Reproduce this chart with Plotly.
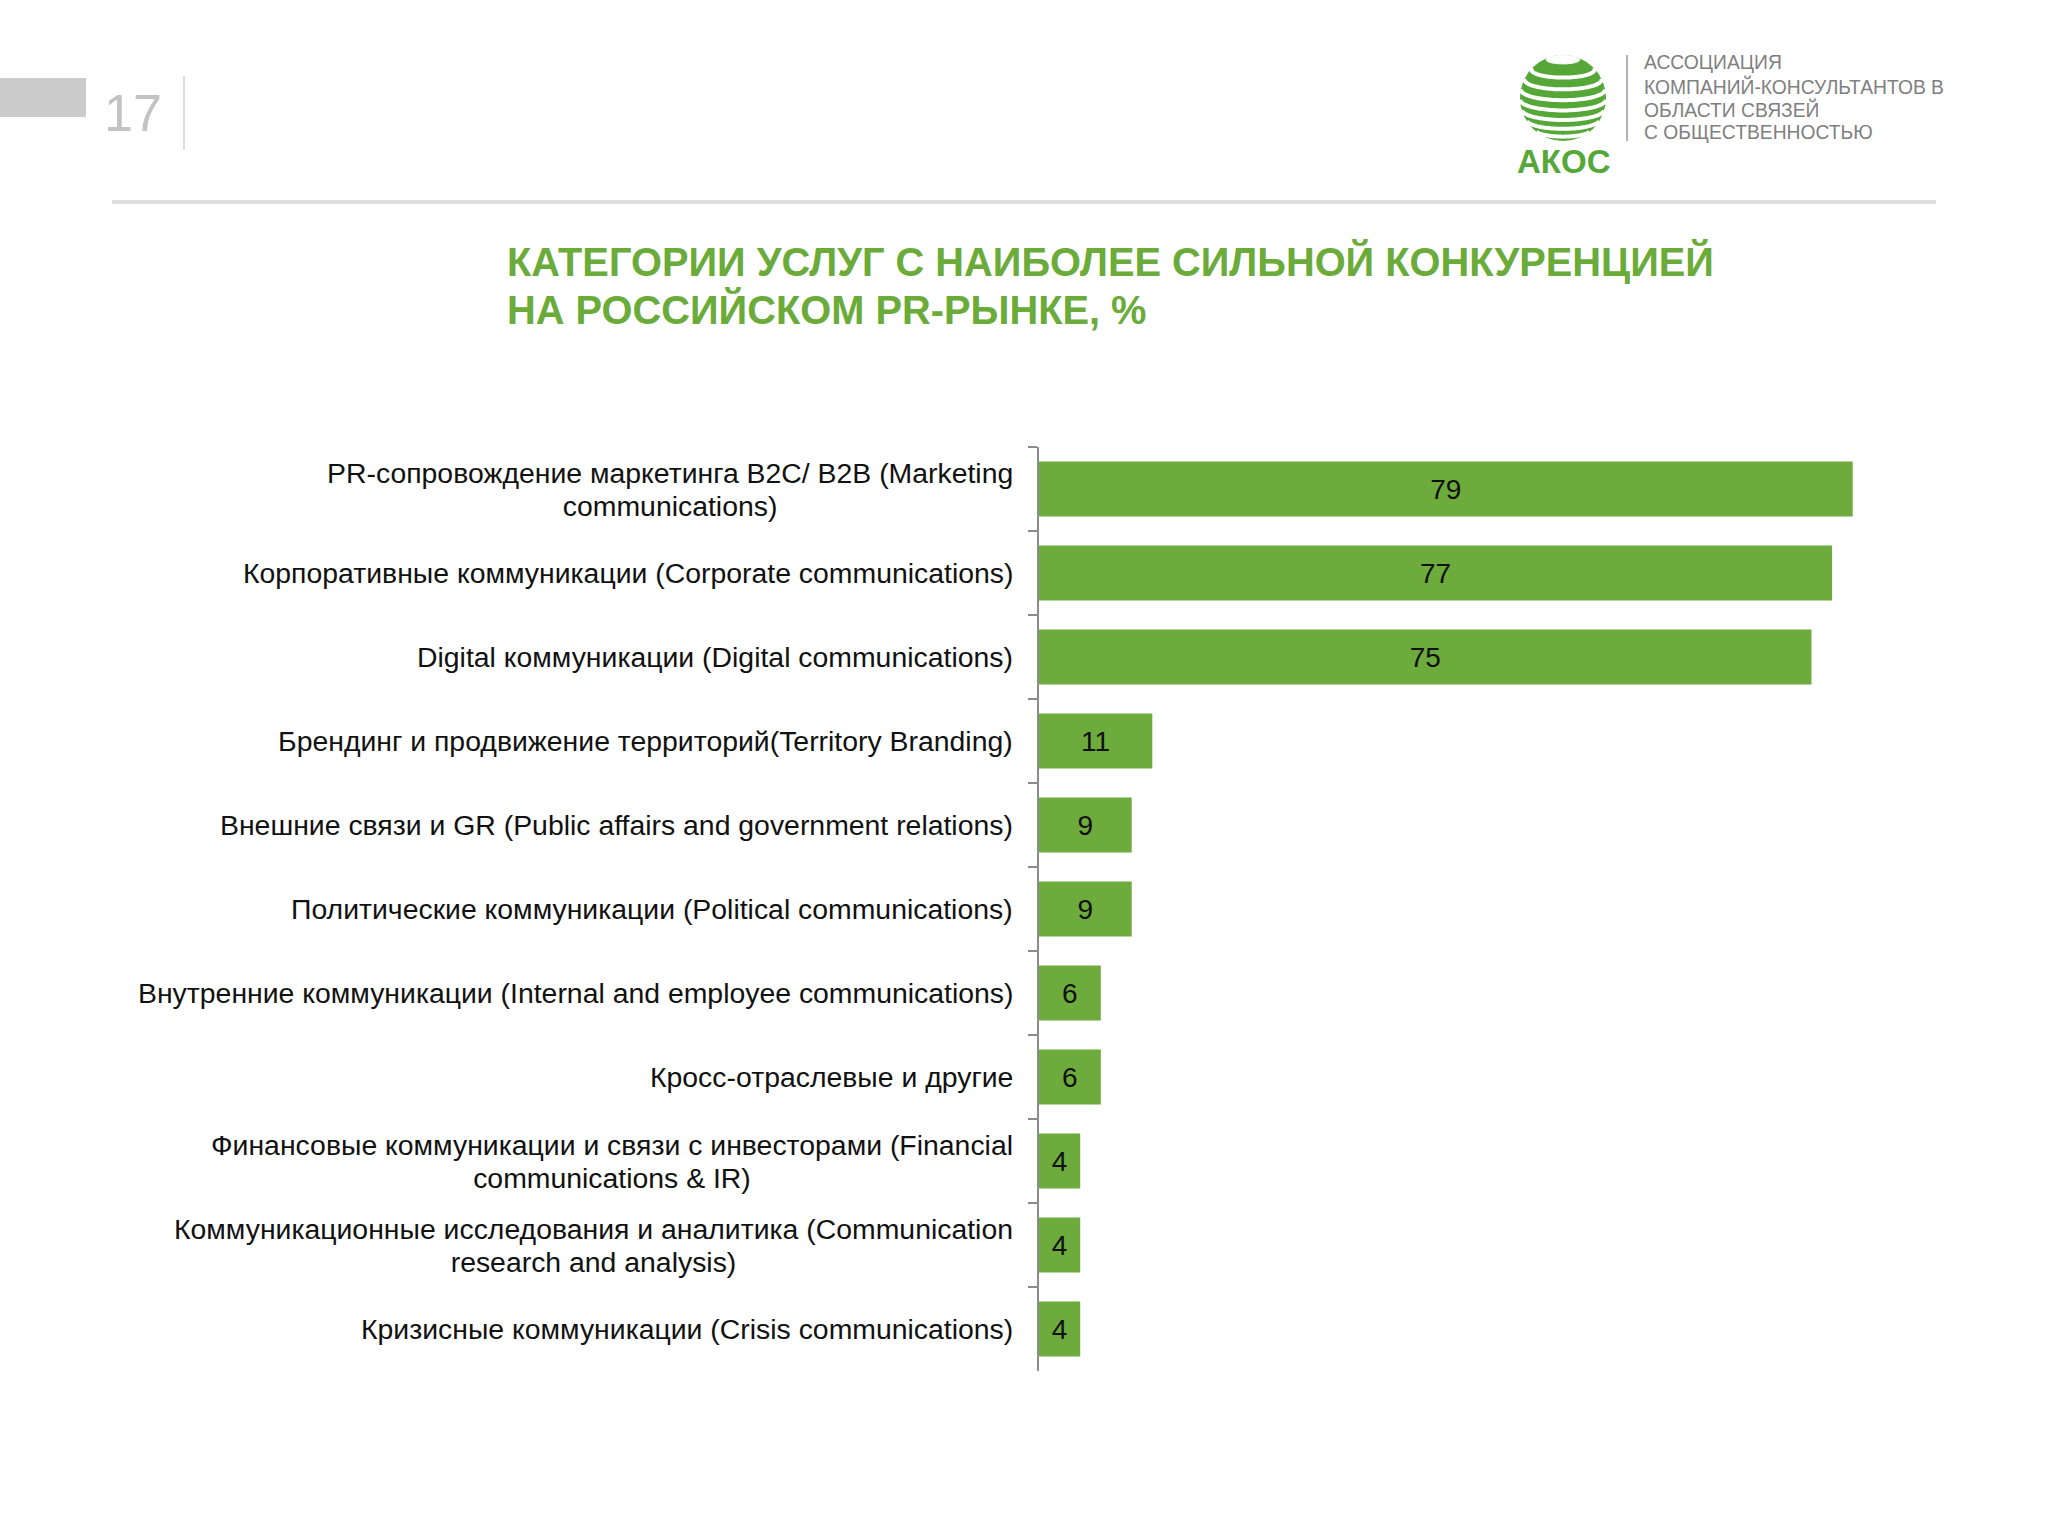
import plotly.graph_objects as go
import numpy as np

# ---------------- data ----------------
categories = [
    "PR-сопровождение маркетинга B2C/ B2B (Marketing<br>communications)",
    "Корпоративные коммуникации (Corporate communications)",
    "Digital коммуникации (Digital communications)",
    "Брендинг и продвижение территорий(Territory Branding)",
    "Внешние связи и GR (Public affairs and government relations)",
    "Политические коммуникации (Political communications)",
    "Внутренние коммуникации (Internal and employee communications)",
    "Кросс-отраслевые и другие",
    "Финансовые коммуникации и связи с инвесторами (Financial<br>communications & IR)",
    "Коммуникационные исследования и аналитика (Communication<br>research and analysis)",
    "Кризисные коммуникации (Crisis communications)",
]
values = [79, 77, 75, 11, 9, 9, 6, 6, 4, 4, 4]

title_text = "КАТЕГОРИИ УСЛУГ С НАИБОЛЕЕ СИЛЬНОЙ КОНКУРЕНЦИЕЙ<br>НА РОССИЙСКОМ PR-РЫНКЕ, %"
page_number = "17"
logo_name = "АКОС"
logo_lines = [
    "АССОЦИАЦИЯ",
    "КОМПАНИЙ-КОНСУЛЬТАНТОВ В",
    "ОБЛАСТИ СВЯЗЕЙ",
    "С ОБЩЕСТВЕННОСТЬЮ",
]

# ---------------- layout geometry ----------------
W, H = 2048, 1536
ML, MT = 1039, 447
PW, PH = 900, 924
MR = W - ML - PW
MB = H - MT - PH
PX_PER_UNIT = 10.3
XMAX = PW / PX_PER_UNIT

GREEN = "#6dac3c"
LOGO_GREEN = "#55a738"
FONT = "Liberation Sans, Arial, sans-serif"


def px(x):
    return (x - ML) / PW


def py(y):
    return 1 - (y - MT) / PH


def sized(text, size):
    return "<br>".join('<span style="font-size:%spx">%s</span>' % (size, part)
                       for part in text.split("<br>"))


fig = go.Figure()
fig.add_trace(go.Bar(
    x=values,
    y=categories,
    orientation="h",
    marker=dict(color=GREEN, line=dict(width=0)),
    text=[str(v) for v in values],
    textposition="inside",
    insidetextanchor="middle",
    textfont=dict(family=FONT, size=28, color="#111111"),
    constraintext="none",
    hoverinfo="skip",
))

annotations = []
# category labels (centered multi-line, right edge near axis)
for c in categories:
    annotations.append(dict(
        x=0, xref="paper", y=c, yref="y",
        text=sized(c, 28.4), showarrow=False, xanchor="right", yanchor="middle",
        align="center", xshift=-24,
        font=dict(family=FONT, size=25.4, color="#111111"),
    ))

# title
annotations.append(dict(
    x=px(505), xref="paper", y=py(286), yref="paper",
    text="<b>" + sized(title_text, 39.8) + "</b>", showarrow=False,
    xanchor="left", yanchor="middle", align="left",
    font=dict(family=FONT, size=37, color="#6aab3a"),
))

# page number
annotations.append(dict(
    x=px(133), xref="paper", y=py(113), yref="paper",
    text=page_number, showarrow=False, xanchor="center", yanchor="middle",
    font=dict(family=FONT, size=52, color="#c3c3c3"),
))

# logo texts
annotations.append(dict(
    x=px(1563), xref="paper", y=py(162), yref="paper",
    text="<b>" + logo_name + "</b>", showarrow=False, xanchor="center", yanchor="middle",
    font=dict(family=FONT, size=33, color=LOGO_GREEN),
))
for i, line in enumerate(logo_lines):
    annotations.append(dict(
        x=px(1642), xref="paper", y=py(63 + i * 23.3), yref="paper",
        text=line, showarrow=False, xanchor="left", yanchor="middle",
        font=dict(family=FONT, size=19.3, color="#7f7f7f"),
    ))

shapes = []
# grey block left
shapes.append(dict(type="rect", xref="paper", yref="paper",
                   x0=px(0), x1=px(86), y0=py(78), y1=py(117),
                   fillcolor="#cbcbcb", line=dict(width=0)))
# vertical separator near page number
shapes.append(dict(type="line", xref="paper", yref="paper",
                   x0=px(184), x1=px(184), y0=py(76), y1=py(150),
                   line=dict(color="#dcdcdc", width=2)))
# header rule
shapes.append(dict(type="line", xref="paper", yref="paper",
                   x0=px(112), x1=px(1936), y0=py(202), y1=py(202),
                   line=dict(color="#dedede", width=4)))
# logo separator
shapes.append(dict(type="line", xref="paper", yref="paper",
                   x0=px(1627), x1=px(1627), y0=py(55), y1=py(141),
                   line=dict(color="#9a9a9a", width=1.5)))

# striped globe logo (decoration)
cx, cy, R = 1563, 98, 43
shapes.append(dict(type="circle", xref="paper", yref="paper",
                   x0=px(cx - R), x1=px(cx + R), y0=py(cy - R), y1=py(cy + R),
                   fillcolor=LOGO_GREEN, line=dict(width=0)))
sa = 0.25
ca = np.sqrt(1 - sa ** 2)
ta = sa / ca
for j, h in enumerate([0.92, 0.68, 0.44, 0.20, -0.04, -0.28, -0.52, -0.76]):
    r = np.sqrt(1 - h * h)
    k = h * ta / r
    full = (j == 0)
    if full:
        t = np.linspace(0, 2 * np.pi, 60)
    else:
        t0 = np.arcsin(np.clip(k, -1, 1))
        t = np.linspace(-t0, np.pi + t0, 60)
    xs = cx + R * r * np.cos(t)
    ys = cy - R * h * ca + R * r * sa * np.sin(t)
    path = "M " + " L ".join("%.5f,%.5f" % (px(a), py(b)) for a, b in zip(xs, ys))
    if full:
        path += " Z"
        shapes.append(dict(type="path", xref="paper", yref="paper", path=path,
                           fillcolor="white", line=dict(color="white", width=1)))
    else:
        shapes.append(dict(type="path", xref="paper", yref="paper", path=path,
                           line=dict(color="white", width=4)))

fig.update_layout(
    width=W, height=H,
    margin=dict(l=ML, r=MR, t=MT, b=MB, pad=0),
    paper_bgcolor="white", plot_bgcolor="white",
    showlegend=False,
    bargap=0.345,
    font=dict(family=FONT),
    annotations=annotations,
    shapes=shapes,
    xaxis=dict(visible=False, range=[0, XMAX], fixedrange=True),
    yaxis=dict(
        type="category", range=[len(categories) - 0.5, -0.5],
        showticklabels=False, tickson="boundaries", ticks="outside",
        ticklen=9, tickwidth=2, tickcolor="#8c8c8c",
        showline=True, linecolor="#8c8c8c", linewidth=2,
        showgrid=False, zeroline=False, fixedrange=True,
    ),
)

fig.write_html("out.html", config={"displayModeBar": False},
               post_script="document.body.style.margin='0';document.body.style.overflow='hidden';")
